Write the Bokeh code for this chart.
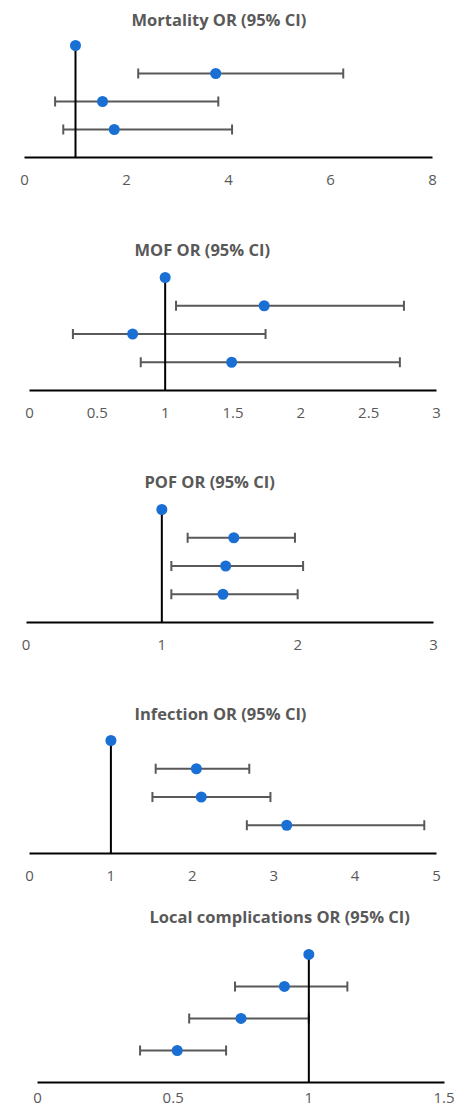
from bokeh.plotting import figure
from bokeh.layouts import column
from bokeh.models import Range1d, FixedTicker, Whisker, TeeHead, ColumnDataSource
from bokeh.embed import file_html
from bokeh.resources import INLINE

# ---------------- data ----------------
rows = [4, 3, 2, 1]  # row 4 = reference category (OR = 1)

mort_title = "Mortality OR (95% CI)"
mort_or = [1.0, 3.75, 1.53, 1.76]
mort_lo = [None, 2.23, 0.60, 0.76]
mort_hi = [None, 6.25, 3.80, 4.07]
mort_ticks = [0, 2, 4, 6, 8]
mort_labels = ["0", "2", "4", "6", "8"]

mof_title = "MOF OR (95% CI)"
mof_or = [1.0, 1.73, 0.76, 1.49]
mof_lo = [None, 1.08, 0.32, 0.82]
mof_hi = [None, 2.76, 1.74, 2.73]
mof_ticks = [0, 0.5, 1, 1.5, 2, 2.5, 3]
mof_labels = ["0", "0.5", "1", "1.5", "2", "2.5", "3"]

pof_title = "POF OR (95% CI)"
pof_or = [1.0, 1.53, 1.47, 1.45]
pof_lo = [None, 1.19, 1.07, 1.07]
pof_hi = [None, 1.98, 2.04, 2.00]
pof_ticks = [0, 1, 2, 3]
pof_labels = ["0", "1", "2", "3"]

inf_title = "Infection OR (95% CI)"
inf_or = [1.0, 2.05, 2.11, 3.16]
inf_lo = [None, 1.55, 1.51, 2.67]
inf_hi = [None, 2.70, 2.96, 4.85]
inf_ticks = [0, 1, 2, 3, 4, 5]
inf_labels = ["0", "1", "2", "3", "4", "5"]

loc_title = "Local complications OR (95% CI)"
loc_or = [1.0, 0.91, 0.75, 0.515]
loc_lo = [None, 0.728, 0.559, 0.378]
loc_hi = [None, 1.142, 1.00, 0.695]
loc_ticks = [0, 0.5, 1, 1.5]
loc_labels = ["0", "0.5", "1", "1.5"]

# ---------------- layout / style ----------------
DOT = "#1a6fd4"
BAR = "#595959"
TXT = "#595959"
FONT = "Open Sans"

BL, BR, FW = 4, 10, 440      # identical horizontal borders for all panels
FL = BL                      # x of frame left edge inside the layout

# (title, or, lo, hi, ticks, labels, axis_px_left, axis_px_right, ytop,
#  border_top, frame_h, border_bottom, title_offset, label_standoff)
panels = [
    (mort_title, mort_or, mort_lo, mort_hi, mort_ticks, mort_labels, 24, 432, 4.464, 32, 125, 71, 127, 17),
    (mof_title, mof_or, mof_lo, mof_hi, mof_ticks, mof_labels, 29, 436, 4.531, 34, 128, 68, 130, 17),
    (pof_title, pof_or, pof_lo, pof_hi, pof_ticks, pof_labels, 25.5, 433, 4.531, 36, 128, 66, 140, 17),
    (inf_title, inf_or, inf_lo, inf_hi, inf_ticks, inf_labels, 29, 436, 4.496, 38, 127, 45, 130, 17),
    (loc_title, loc_or, loc_lo, loc_hi, loc_ticks, loc_labels, 37, 444, 4.78, 31, 153, 25, 145, 10),
]

figs = []
for (title, ors, los, his, ticks, labels, pl, pr, ytop, bt, fh, bb, toff, lstand) in panels:
    xmax = ticks[-1]
    s = (pr - pl) / xmax
    x0 = (FL - pl) / s
    x1 = xmax + (FL + FW - pr) / s
    p = figure(
        frame_width=FW, frame_height=fh,
        x_range=Range1d(x0, x1), y_range=Range1d(0, ytop),
        y_axis_location=None, output_backend="svg", toolbar_location=None,
        min_border_left=BL, min_border_right=BR, min_border_top=bt, min_border_bottom=bb,
        title=title,
    )
    p.outline_line_color = None
    p.xgrid.visible = False
    p.ygrid.visible = False
    p.background_fill_color = "white"
    p.border_fill_color = "white"

    p.title.text_font = FONT
    p.title.text_font_size = "16.5px"
    p.title.text_font_style = "bold"
    p.title.text_color = TXT
    p.title.align = "left"
    p.title.offset = toff
    p.title.standoff = 3

    ax = p.xaxis[0]
    ax.bounds = (0, xmax)
    ax.ticker = FixedTicker(ticks=ticks)
    ax.major_label_overrides = {t: l for t, l in zip(ticks, labels)}
    ax.axis_line_color = "black"
    ax.axis_line_width = 2
    ax.major_tick_line_color = None
    ax.minor_tick_line_color = None
    ax.major_tick_out = 0
    ax.major_tick_in = 0
    ax.major_label_standoff = lstand
    ax.major_label_text_font = FONT
    ax.major_label_text_font_size = "15px"
    ax.major_label_text_color = TXT

    ci = ColumnDataSource(dict(
        y=[r for r, lo in zip(rows, los) if lo is not None],
        lo=[lo for lo in los if lo is not None],
        hi=[hi for hi in his if hi is not None],
    ))
    wh = Whisker(source=ci, base="y", lower="lo", upper="hi", dimension="width",
                 line_color=BAR, line_width=2, level="underlay",
                 lower_head=TeeHead(size=10, line_color=BAR, line_width=2),
                 upper_head=TeeHead(size=10, line_color=BAR, line_width=2))
    p.add_layout(wh)

    # reference line at OR = 1 from the axis up to the reference row
    p.segment(x0=[ors[0]], y0=[0], x1=[ors[0]], y1=[rows[0]], line_color="black", line_width=2)

    p.scatter(x=ors, y=rows, size=11, fill_color=DOT, line_color=DOT, line_width=0)
    figs.append(p)

layout = column(*figs, spacing=0)
open("out.html", "w").write(file_html(layout, INLINE))
